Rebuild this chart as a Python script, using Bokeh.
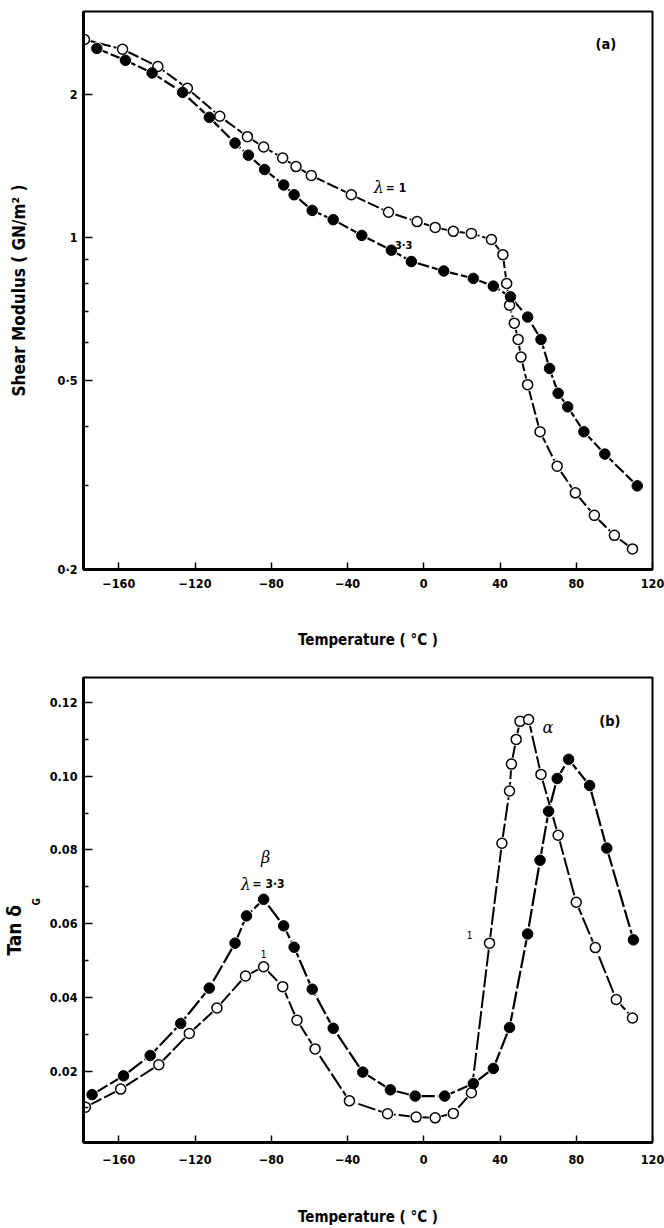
from bokeh.embed import file_html
from bokeh.layouts import column
from bokeh.models import FixedTicker, Label, Range1d, Title
from bokeh.plotting import figure
from bokeh.resources import INLINE

SANS = "DejaVu Sans Condensed"
SERIF = "DejaVu Serif"

# ---- (a) shear modulus, GN/m^2, against temperature (deg C) ----
temp_a_lam1 = [-178, -158, -139.5, -124, -107, -92.5, -84, -74, -67, -59, -38, -18.5,
               -3.5, 6, 15.5, 25, 35.5, 41.5, 43.5, 45, 47.5, 49.5, 51, 54.5, 61, 70,
               79.5, 89.5, 100, 109.5]
modulus_lam1 = [2.61, 2.49, 2.29, 2.06, 1.80, 1.63, 1.55, 1.47, 1.41, 1.35, 1.23, 1.13,
                1.08, 1.05, 1.03, 1.02, 0.99, 0.92, 0.80, 0.72, 0.66, 0.61, 0.56, 0.49,
                0.39, 0.33, 0.29, 0.26, 0.236, 0.221]

temp_a_lam33 = [-171.5, -156.5, -142.5, -126.5, -112.5, -99, -92, -83.5, -73.5, -68, -58.5,
                -47.5, -32.5, -17, -6.5, 10.5, 26, 36.5, 45.5, 54.5, 61.5, 66, 70.5, 75.5,
                84, 95, 112]
modulus_lam33 = [2.50, 2.36, 2.22, 2.02, 1.79, 1.58, 1.49, 1.39, 1.29, 1.23, 1.14, 1.09,
                 1.01, 0.94, 0.89, 0.85, 0.82, 0.79, 0.75, 0.68, 0.61, 0.53, 0.47, 0.44,
                 0.39, 0.35, 0.30]

# ---- (b) loss tangent against temperature (deg C) ----
temp_b_lam1 = [-177.5, -159, -139, -123, -108.5, -93.5, -84, -74, -66.5, -57, -39, -19,
               -4, 6, 15.5, 25, 34.5, 41, 45, 46, 48.5, 50.5, 55, 61.5, 70.5, 80, 90, 101,
               109.5]
tan_lam1 = [0.0102, 0.0151, 0.0217, 0.0302, 0.0371, 0.0458, 0.0483, 0.0429, 0.0338, 0.0260,
            0.0119, 0.0084, 0.0075, 0.0073, 0.0085, 0.0141, 0.0547, 0.0818, 0.0960, 0.1033,
            0.1100, 0.1149, 0.1154, 0.1005, 0.0840, 0.0658, 0.0535, 0.0394, 0.0344]

temp_b_lam33 = [-174, -157.5, -143.5, -127.5, -112.5, -99, -93, -84, -73.5, -68, -58.5,
                -47.5, -32, -17.5, -4.5, 11, 26, 36.5, 45, 54.5, 61, 65.5, 70, 76, 87, 96,
                110]
tan_lam33 = [0.0136, 0.0187, 0.0242, 0.0329, 0.0425, 0.0547, 0.0621, 0.0666, 0.0594, 0.0536,
             0.0422, 0.0316, 0.0197, 0.0149, 0.0132, 0.0132, 0.0166, 0.0207, 0.0318, 0.0572,
             0.0772, 0.0905, 0.0994, 0.1046, 0.0975, 0.0805, 0.0556]

# ---- axes ----
temp_ticks = [-160, -120, -80, -40, 0, 40, 80, 120]
temp_tick_labels = ["\u2212160", "\u2212120", "\u221280", "\u221240", "0", "40", "80", "120"]
mod_ticks = [0.2, 0.5, 1, 2]
mod_tick_labels = ["0\u00b72", "0\u00b75", "1", "2"]
mod_minor = [0.3, 0.4, 0.6, 0.7, 0.8, 0.9]
tan_ticks = [0.02, 0.04, 0.06, 0.08, 0.10, 0.12]
tan_tick_labels = ["0.02", "0.04", "0.06", "0.08", "0.10", "0.12"]
tan_minor = [0.01, 0.03, 0.05, 0.07, 0.09, 0.11]


def frame_style(p, x_title, x_label_gap, x_title_gap):
    p.grid.visible = False
    p.outline_line_color = "black"
    p.outline_line_width = 2
    p.background_fill_color = "white"
    p.border_fill_color = "white"
    for ax in (p.xaxis[0], p.yaxis[0]):
        ax.axis_line_width = 3
        ax.axis_line_color = "black"
        ax.major_tick_out = 0
        ax.minor_tick_out = 0
        ax.major_tick_line_width = 1.5
        ax.minor_tick_line_width = 1.5
        ax.major_label_text_font = SANS
        ax.major_label_text_font_style = "bold"
        ax.major_label_text_font_size = "12.5px"
        ax.major_label_text_color = "black"
        ax.axis_label_text_font = SANS
        ax.axis_label_text_font_style = "bold"
        ax.axis_label_text_color = "black"
    xa = p.xaxis[0]
    xa.ticker = FixedTicker(ticks=temp_ticks)
    xa.major_label_overrides = dict(zip(temp_ticks, temp_tick_labels))
    xa.major_tick_in = 7
    xa.minor_tick_line_color = None
    xa.major_label_standoff = x_label_gap
    xa.axis_label = x_title
    xa.axis_label_text_font_size = "15px"
    xa.axis_label_standoff = x_title_gap
    ya = p.yaxis[0]
    ya.major_tick_in = 9
    ya.minor_tick_in = 5
    ya.major_label_standoff = 6


def draw_pair(p, xs_open, ys_open, xs_fill, ys_fill, dash):
    p.line(xs_open, ys_open, line_color="black", line_width=2, line_dash=dash)
    p.line(xs_fill, ys_fill, line_color="black", line_width=2.2, line_dash=dash)
    for xs, ys in ((xs_open, ys_open), (xs_fill, ys_fill)):
        p.scatter(xs, ys, size=13, marker="circle", fill_color="white", line_color=None)
    p.scatter(xs_open, ys_open, size=10, marker="circle", fill_color="white",
              line_color="black", line_width=1.5)
    p.scatter(xs_fill, ys_fill, size=10.5, marker="circle", fill_color="black",
              line_color="black", line_width=1)


def text(p, x, y, s, size, font=SANS, style="bold", align="center"):
    p.add_layout(Label(x=x, y=y, text=s, text_font=font, text_font_style=style,
                       text_font_size=size, text_align=align, text_baseline="middle",
                       text_color="black"))


# ---- panel (a) ----
pa = figure(width=664, height=655, y_axis_type="log",
            x_range=Range1d(-178.5, 120), y_range=Range1d(0.2, 2.99),
            min_border_left=83, min_border_right=12, min_border_top=11,
            min_border_bottom=86, toolbar_location=None, output_backend="svg")
frame_style(pa, "Temperature ( \u00b0C )", 9, 40)
pa.yaxis[0].ticker = FixedTicker(ticks=mod_ticks, minor_ticks=mod_minor)
pa.yaxis[0].major_label_overrides = dict(zip(mod_ticks, mod_tick_labels))
pa.yaxis[0].axis_label = "Shear Modulus ( GN/m\u00b2 )"
pa.yaxis[0].axis_label_text_font_size = "17px"
pa.yaxis[0].axis_label_standoff = 26

draw_pair(pa, temp_a_lam1, modulus_lam1, temp_a_lam33, modulus_lam33, "12 3")

text(pa, 95.5, 2.56, "(a)", "14.5px")
text(pa, -23.6, 1.274, "\u03bb", "16px", font=SERIF, style="italic")
text(pa, -19.9, 1.268, "= 1", "12px", align="left")
text(pa, -10.5, 0.962, "3\u00b73", "11px")

# ---- panel (b) ----
pb = figure(width=664, height=573,
            x_range=Range1d(-178.5, 120), y_range=Range1d(0.0006, 0.1268),
            min_border_left=83, min_border_right=12, min_border_top=22,
            min_border_bottom=79, toolbar_location=None, output_backend="svg")
frame_style(pb, "Temperature ( \u00b0C )", 12, 41)
pb.yaxis[0].ticker = FixedTicker(ticks=tan_ticks, minor_ticks=tan_minor)
pb.yaxis[0].major_label_overrides = dict(zip(tan_ticks, tan_tick_labels))

# y title "Tan delta" with a subscript G, built from two side titles
sub_g = Title(text="G", text_font=SANS, text_font_style="bold", text_font_size="10px",
              align="left", offset=237, standoff=9, text_color="black")
tan_delta = Title(text="Tan \u03b4", text_font=SANS, text_font_style="bold",
                  text_font_size="19px", align="left", offset=187, standoff=0,
                  text_color="black")
pb.add_layout(sub_g, "left")
pb.add_layout(tan_delta, "left")

draw_pair(pb, temp_b_lam1, tan_lam1, temp_b_lam33, tan_lam33, "18 3")

text(pb, 97.6, 0.1151, "(b)", "14.5px")
text(pb, 65.1, 0.1132, "\u03b1", "16px", font=SERIF, style="italic")
text(pb, -82.9, 0.0779, "\u03b2", "16px", font=SERIF, style="italic")
text(pb, -93.4, 0.0707, "\u03bb", "16px", font=SERIF, style="italic")
text(pb, -89.8, 0.0707, "= 3\u00b73", "12px", align="left")
text(pb, -84.0, 0.0517, "1", "10px", style="normal")
text(pb, 24.1, 0.0568, "1", "10px", style="normal")

layout = column(pa, pb)
open("out.html", "w").write(file_html(layout, INLINE))
